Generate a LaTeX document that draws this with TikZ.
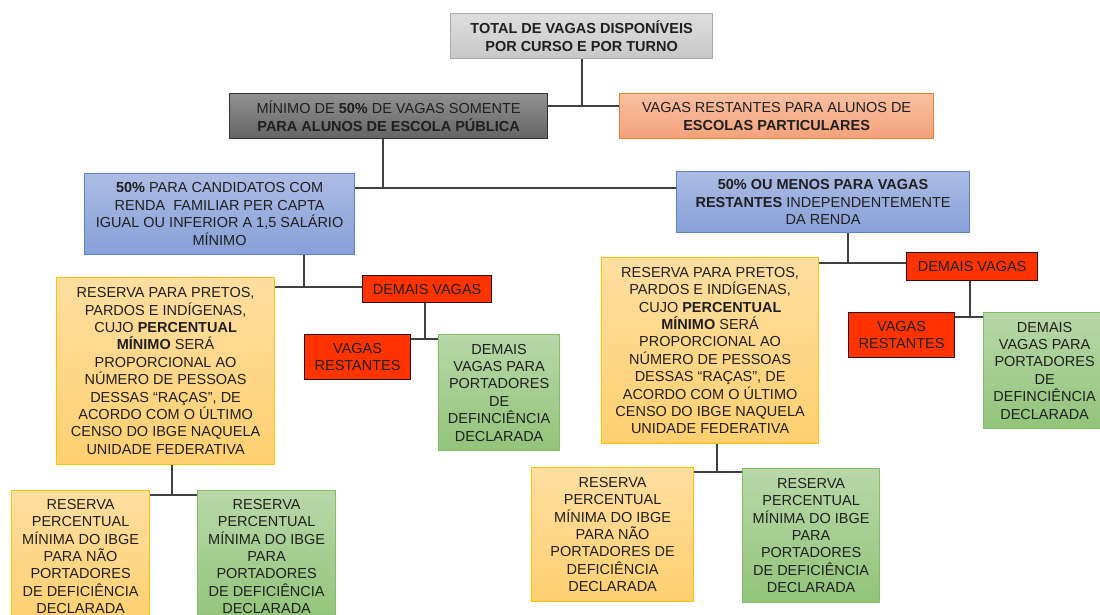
\documentclass[tikz,border=0pt]{standalone}
\usepackage{fontspec}
\setmainfont{Liberation Sans}
\begin{document}
\begin{tikzpicture}[x=1pt,y=-1pt,
  box/.style={rectangle, anchor=north west, inner sep=0pt, align=center, line width=1.2pt, text=black!88,
    font=\fontsize{14.5}{17.4}\selectfont},
  topbox/.style={box, draw={rgb,255:red,170;green,170;blue,170}, top color={rgb,255:red,222;green,222;blue,222}, bottom color={rgb,255:red,200;green,200;blue,200}, font=\fontsize{14.5}{18}\selectfont\bfseries},
  graybox/.style={box, draw={rgb,255:red,50;green,50;blue,50}, top color={rgb,255:red,145;green,145;blue,145}, bottom color={rgb,255:red,100;green,100;blue,100}, font=\fontsize{14.5}{18}\selectfont},
  orangebox/.style={box, draw={rgb,255:red,237;green,125;blue,49}, top color={rgb,255:red,248;green,192;blue,162}, bottom color={rgb,255:red,243;green,162;blue,122}, font=\fontsize{14.5}{18}\selectfont},
  bluebox/.style={box, draw={rgb,255:red,90;green,130;blue,210}, top color={rgb,255:red,172;green,188;blue,228}, bottom color={rgb,255:red,135;green,160;blue,216}},
  yelbox/.style={box, draw={rgb,255:red,255;green,192;blue,0}, top color={rgb,255:red,255;green,222;blue,160}, bottom color={rgb,255:red,255;green,208;blue,112}},
  redbox/.style={box, draw={rgb,255:red,50;green,10;blue,0}, fill={rgb,255:red,255;green,51;blue,0}},
  grnbox/.style={box, draw={rgb,255:red,130;green,190;blue,100}, top color={rgb,255:red,184;green,216;blue,168}, bottom color={rgb,255:red,146;green,196;blue,122}},
  conn/.style={draw={rgb,255:red,64;green,64;blue,64}, line width=1.5pt}
]
\useasboundingbox (0,0) rectangle (1100,615);

% top level
\node[topbox, minimum width=262pt, minimum height=45pt] (top) at (450,13) {TOTAL DE VAGAS DISPONÍVEIS\\POR CURSO E POR TURNO};
\node[graybox, minimum width=318pt, minimum height=45pt] (gray) at (229,93) {MÍNIMO DE \textbf{50\%} DE VAGAS SOMENTE\\\textbf{PARA ALUNOS DE ESCOLA PÚBLICA}};
\node[orangebox, minimum width=314pt, minimum height=45pt] (orng) at (619,93) {VAGAS RESTANTES PARA ALUNOS DE\\\textbf{ESCOLAS PARTICULARES}};

% second level
\node[bluebox, minimum width=270pt, minimum height=81pt] (blueL) at (84,173) {\textbf{50\%} PARA CANDIDATOS COM\\RENDA~ FAMILIAR PER CAPTA\\IGUAL OU INFERIOR A 1,5 SALÁRIO\\MÍNIMO};
\node[bluebox, minimum width=293pt, minimum height=61pt] (blueR) at (676,171) {\textbf{50\% OU MENOS PARA VAGAS}\\\textbf{RESTANTES} INDEPENDENTEMENTE\\DA RENDA};

% left branch
\node[yelbox, minimum width=218pt, minimum height=187pt] (yelL) at (56,277) {RESERVA PARA PRETOS,\\PARDOS E INDÍGENAS,\\CUJO \textbf{PERCENTUAL}\\\textbf{MÍNIMO} SERÁ\\PROPORCIONAL AO\\NÚMERO DE PESSOAS\\DESSAS “RAÇAS”, DE\\ACORDO COM O ÚLTIMO\\CENSO DO IBGE NAQUELA\\UNIDADE FEDERATIVA};
\node[redbox, minimum width=129pt, minimum height=27pt] (demL) at (362,275) {DEMAIS VAGAS};
\node[redbox, minimum width=106pt, minimum height=45pt] (restL) at (304,334) {VAGAS\\RESTANTES};
\node[grnbox, minimum width=121pt, minimum height=116pt] (portL) at (438,334) {DEMAIS\\VAGAS PARA\\PORTADORES\\DE\\DEFINCIÊNCIA\\DECLARADA};
\node[yelbox, minimum width=138pt, minimum height=132pt] (bylL) at (11,490) {RESERVA\\PERCENTUAL\\MÍNIMA DO IBGE\\PARA NÃO\\PORTADORES\\DE DEFICIÊNCIA\\DECLARADA};
\node[grnbox, minimum width=138pt, minimum height=132pt] (bgrL) at (197,490) {RESERVA\\PERCENTUAL\\MÍNIMA DO IBGE\\PARA\\PORTADORES\\DE DEFICIÊNCIA\\DECLARADA};

% right branch
\node[yelbox, minimum width=217pt, minimum height=186pt] (yelR) at (601,257) {RESERVA PARA PRETOS,\\PARDOS E INDÍGENAS,\\CUJO \textbf{PERCENTUAL}\\\textbf{MÍNIMO} SERÁ\\PROPORCIONAL AO\\NÚMERO DE PESSOAS\\DESSAS “RAÇAS”, DE\\ACORDO COM O ÚLTIMO\\CENSO DO IBGE NAQUELA\\UNIDADE FEDERATIVA};
\node[redbox, minimum width=131pt, minimum height=28pt] (demR) at (906,252) {DEMAIS VAGAS};
\node[redbox, minimum width=106pt, minimum height=45pt] (restR) at (848,312) {VAGAS\\RESTANTES};
\node[grnbox, minimum width=122pt, minimum height=116pt] (portR) at (983,312) {DEMAIS\\VAGAS PARA\\PORTADORES\\DE\\DEFINCIÊNCIA\\DECLARADA};
\node[yelbox, minimum width=162pt, minimum height=134pt] (bylR) at (531,467) {RESERVA\\PERCENTUAL\\MÍNIMA DO IBGE\\PARA NÃO\\PORTADORES DE\\DEFICIÊNCIA\\DECLARADA};
\node[grnbox, minimum width=137pt, minimum height=134pt] (bgrR) at (742,468) {RESERVA\\PERCENTUAL\\MÍNIMA DO IBGE\\PARA\\PORTADORES\\DE DEFICIÊNCIA\\DECLARADA};

% junctions
\coordinate (j1) at (582,106);
\coordinate (j2) at (383,188);
\coordinate (j3) at (304,287);
\coordinate (j4) at (425,339);
\coordinate (j5) at (172,495);
\coordinate (j6) at (848,263);
\coordinate (j7) at (970,317);
\coordinate (j8) at (717,472);

% connectors
\draw[conn] (j1 |- top.south) -- (j1);
\draw[conn] (gray.east |- j1) -- (orng.west |- j1);
\draw[conn] (j2 |- gray.south) -- (j2);
\draw[conn] (blueL.east |- j2) -- (blueR.west |- j2);
\draw[conn] (j3 |- blueL.south) -- (j3);
\draw[conn] (yelL.east |- j3) -- (demL.west |- j3);
\draw[conn] (j4 |- demL.south) -- (j4);
\draw[conn] (restL.east |- j4) -- (portL.west |- j4);
\draw[conn] (j5 |- yelL.south) -- (j5);
\draw[conn] (bylL.east |- j5) -- (bgrL.west |- j5);
\draw[conn] (j6 |- blueR.south) -- (j6);
\draw[conn] (yelR.east |- j6) -- (demR.west |- j6);
\draw[conn] (j7 |- demR.south) -- (j7);
\draw[conn] (restR.east |- j7) -- (portR.west |- j7);
\draw[conn] (j8 |- yelR.south) -- (j8);
\draw[conn] (bylR.east |- j8) -- (bgrR.west |- j8);
\end{tikzpicture}
\end{document}
